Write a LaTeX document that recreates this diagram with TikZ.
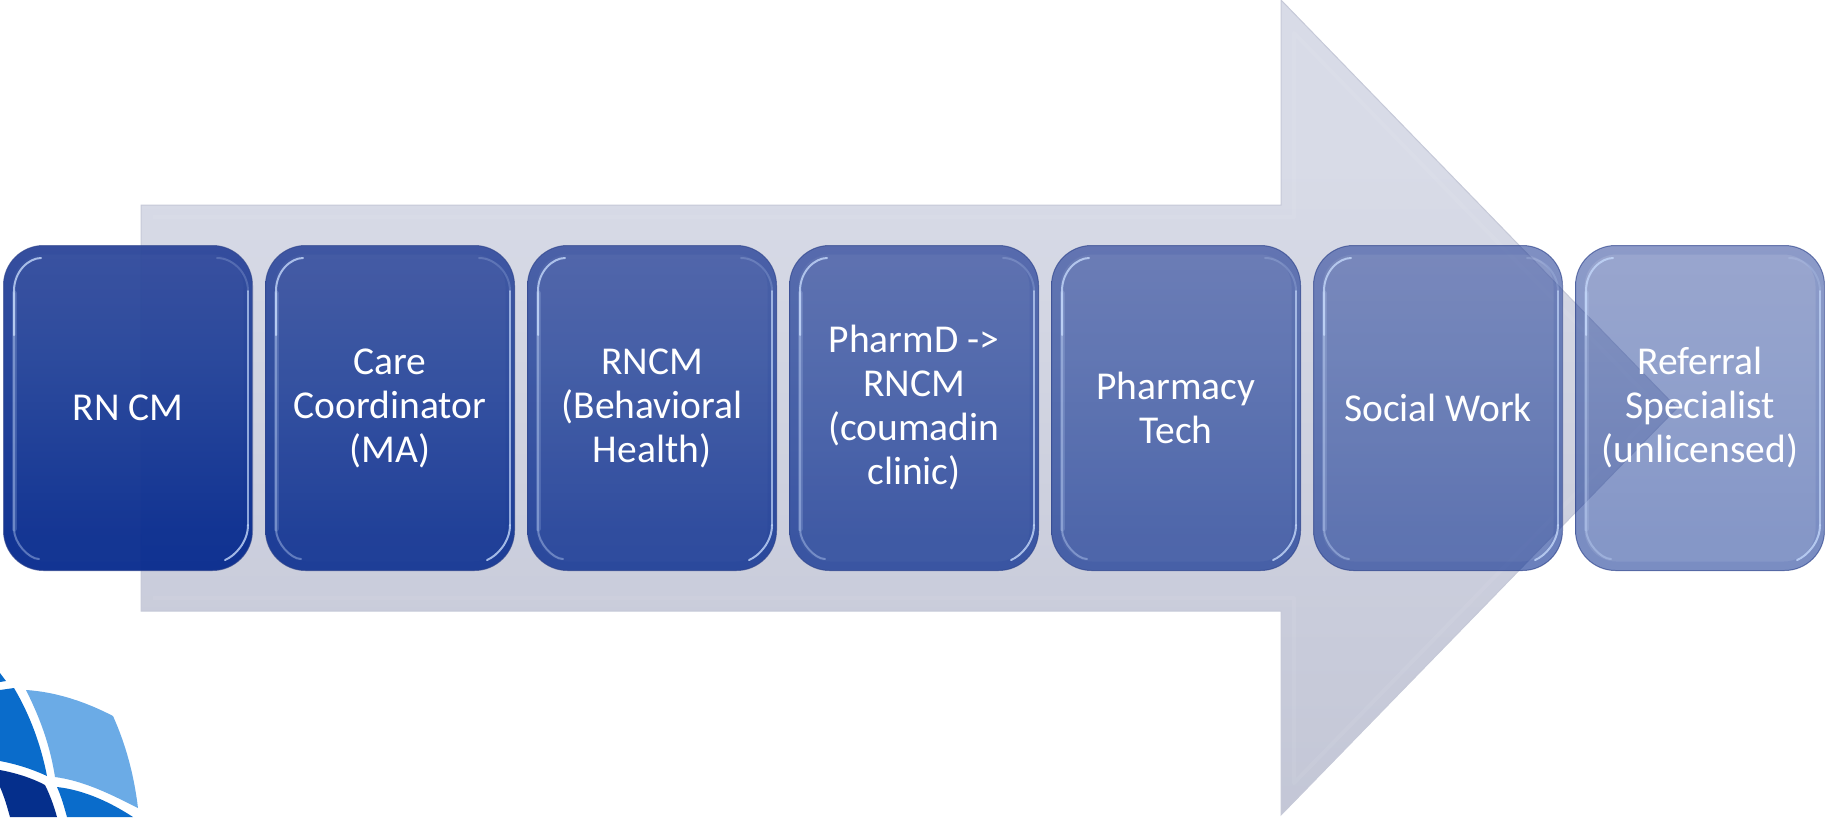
\documentclass[tikz,border=0pt]{standalone}
\usepackage{fontspec}
\setmainfont{Carlito}
\usetikzlibrary{calc}
\definecolor{logoA}{HTML}{0A6CCB}
\definecolor{logoB}{HTML}{6BABE6}
\definecolor{logoC}{HTML}{052F8C}
\definecolor{bA}{HTML}{0A2D91}
\definecolor{bB}{HTML}{0C2F90}
\definecolor{bC}{HTML}{26459A}
\definecolor{bD}{HTML}{3F52A0}
\definecolor{bE}{HTML}{4F5E9F}
\definecolor{aA}{HTML}{B8BCCD}
\definecolor{aB}{HTML}{C8CBDA}
\definecolor{aC}{HTML}{D8DBE7}
\definecolor{rimDark}{HTML}{30458C}
\definecolor{rimLight}{HTML}{C4D8FA}
\definecolor{arrowEdge}{HTML}{C6C9D8}
\pgfdeclareverticalshading{boxshade}{100bp}{
  color(0bp)=(bA);color(30bp)=(bB);color(58bp)=(bC);color(88bp)=(bD);color(100bp)=(bE)}
\pgfdeclareverticalshading{arrowshade}{100bp}{
  color(0bp)=(aA);color(35bp)=(aB);color(65bp)=(aC);color(100bp)=(aC)}
\tikzset{
  stepbox/.style={rectangle,rounded corners=40pt,minimum width=249pt,minimum height=325pt,inner sep=0pt,
    draw=rimDark,draw opacity=.65,line width=1pt,shading=boxshade,align=center,text=white,
    font=\fontsize{39.5}{44}\selectfont,text opacity=1},
  rimglow/.style={line width=2pt,line cap=round,draw=rimLight},
  rimhalo/.style={line width=5pt,line cap=round,draw=rimLight,opacity=.18},
  rimband/.style={line width=9pt,draw=bA,opacity=.09,rounded corners=36pt},
  bigarrow/.style={shading=arrowshade,draw=arrowEdge,line width=1pt},
  bevel/.style={line width=4pt,draw=white,opacity=.06,line join=round},
}
\begin{document}
\begin{tikzpicture}[x=1pt,y=-1pt]
\useasboundingbox (0,0) rectangle (1825,817);
% logo
\fill[logoB] (26,690) .. controls (58,692) and (88,703) .. (113,716) .. controls (126,745) and (134,775) .. (138,808) .. controls (112,795) and (85,781) .. (55,777) .. controls (50,745) and (40,718) .. (26,690) -- cycle;
\fill[logoA] (0,690) -- (14,688) .. controls (30,715) and (41,745) .. (47,776) .. controls (32,769) and (16,764) .. (0,761) -- cycle;
\fill[logoA] (0,673) -- (6,681) -- (0,682) -- cycle;
\fill[logoC] (0,770) .. controls (16,773) and (32,778) .. (45,785) .. controls (50,795) and (54,806) .. (57,817) -- (10,817) .. controls (7,806) and (4,796) .. (0,787) -- cycle;
\fill[logoA] (57,787) .. controls (84,790) and (110,802) .. (133,817) -- (67,817) .. controls (64,806) and (61,796) .. (57,787) -- cycle;
% big arrow
\path[bigarrow] (141,205) -- (1281,205) -- (1281,0) -- (1677,408) -- (1281,815) -- (1281,611) -- (141,611) -- cycle;
\draw[bevel] (153,217) -- (1294,217) -- (1294,33) -- (1659,408) -- (1294,783) -- (1294,598) -- (153,598);
% step boxes
\node[stepbox,fill opacity=.97] (b1) at (128,408) {RN CM};
\node[stepbox,fill opacity=.89] (b2) at (390,408) {Care\\Coordinator\\(MA)};
\node[stepbox,fill opacity=.81] (b3) at (652,408) {RNCM\\(Behavioral\\Health)};
\node[stepbox,fill opacity=.73] (b4) at (914,408) {PharmD ->\\RNCM\\(coumadin\\clinic)};
\node[stepbox,fill opacity=.65] (b5) at (1176,408) {Pharmacy\\Tech};
\node[stepbox,fill opacity=.57] (b6) at (1438,408) {Social Work};
\node[stepbox,fill opacity=.50] (b7) at (1700,408) {Referral\\Specialist\\(unlicensed)};
% glass rims
\foreach \i in {1,...,7}{
  \draw[rimband] ($(b\i.north west)+(5,5)$) rectangle ($(b\i.south east)+(-5,-5)$);
  % left: bright corner, softer side
  \draw[rimhalo] ($(b\i.north west)+(11,48)$) -- ($(b\i.south west)+(11,-42)$);
  \draw[rimglow,opacity=.4] ($(b\i.north west)+(11,48)$) -- ($(b\i.south west)+(11,-42)$) .. controls +(0,14) and +(-10,0) .. ($(b\i.south west)+(36,-12)$);
  \draw[rimglow,opacity=.8] ($(b\i.north west)+(11,90)$) -- ($(b\i.north west)+(11,46)$) .. controls +(0,-20) and +(-12,0) .. ($(b\i.north west)+(38,13)$);
  % right: thin highlight hugging the edge
  \draw[rimglow,opacity=.22] ($(b\i.north east)+(-36,13)$) .. controls +(16,0) and +(0,-18) .. ($(b\i.north east)+(-5,46)$);
  \draw[rimglow,opacity=.7] ($(b\i.north east)+(-5,46)$) -- ($(b\i.south east)+(-5,-46)$);
  \draw[rimglow,opacity=.8] ($(b\i.south east)+(-5,-46)$) .. controls +(0,17) and +(10,-4) .. ($(b\i.south east)+(-28,-11)$);
}
\end{tikzpicture}
\end{document}
